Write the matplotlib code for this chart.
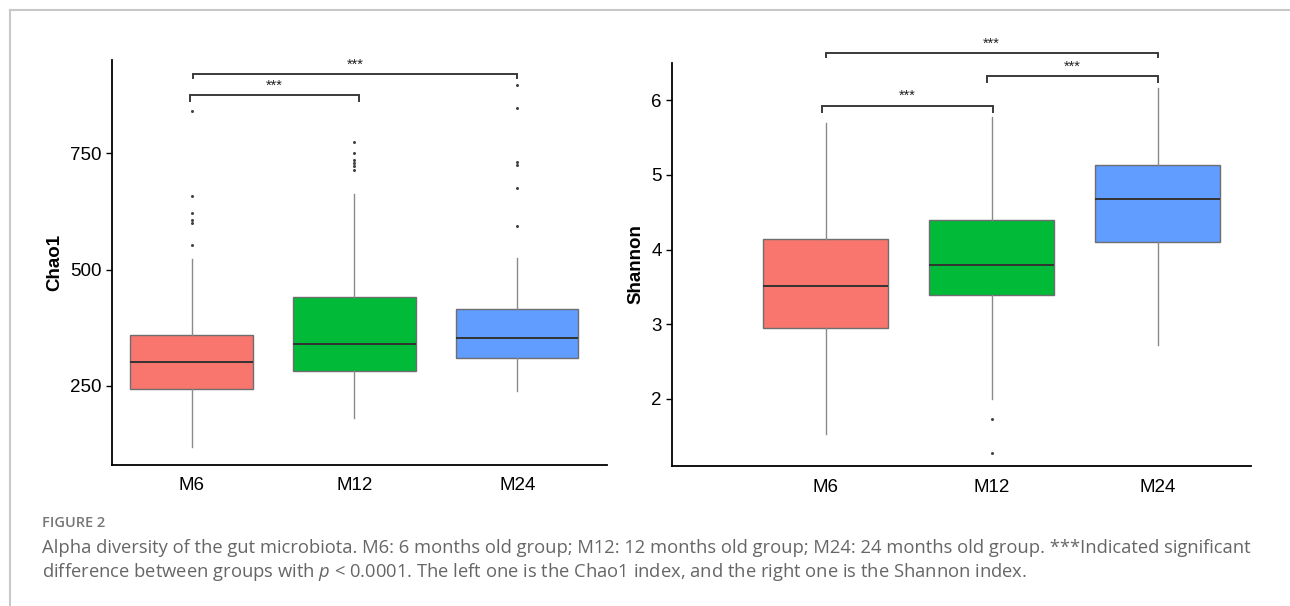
import numpy as np
import matplotlib
matplotlib.use("Agg")
import matplotlib.pyplot as plt
from matplotlib.lines import Line2D

plt.rcParams['font.family'] = ['Liberation Sans', 'DejaVu Sans']
plt.rcParams['mathtext.fontset'] = 'custom'
plt.rcParams['mathtext.rm'] = 'Open Sans'
plt.rcParams['mathtext.it'] = 'Open Sans:italic'

groups = ["M6", "M12", "M24"]
fills = ["#F8766D", "#00BA38", "#619CFF"]

# Chao1 box stats
chao_lo = [118, 182, 238]
chao_q1 = [243, 282, 310]
chao_med = [301, 340, 352]
chao_q3 = [359, 441, 415]
chao_hi = [523, 663, 524]
chao_out = [[553, 600, 607, 621, 659, 841],
            [715, 722, 729, 736, 751, 775],
            [593, 676, 725, 732, 847, 897]]
chao_ticks = [250, 500, 750]
# brackets: (x start, x end, line y, tick bottom y)
chao_sig = [(0.99, 2.03, 875, 863), (1.01, 3.0, 920, 911)]

# Shannon box stats
sh_lo = [1.53, 2.00, 2.72]
sh_q1 = [2.955, 3.39, 4.10]
sh_med = [3.51, 3.795, 4.68]
sh_q3 = [4.14, 4.39, 5.13]
sh_hi = [5.70, 5.78, 6.17]
sh_out = [[], [1.73, 1.28], []]
sh_ticks = [2, 3, 4, 5, 6]
sh_sig = [(0.98, 2.01, 5.93, 5.85), (1.97, 3.0, 6.32, 6.25), (1.0, 3.0, 6.63, 6.58)]

caption_title = "FIGURE 2"
caption_1 = ("Alpha diversity of the gut microbiota. M6: 6 months old group; M12: 12 months old group; "
             "M24: 24 months old group. ***Indicated significant")
caption_2 = ("difference between groups with $p$ < 0.0001. The left one is the Chao1 index, "
             "and the right one is the Shannon index.")


def draw_panel(ax, lo, q1, med, q3, hi, out, ticks, sig, ylabel, xlim, ylim):
    stats = []
    for i in range(len(groups)):
        stats.append(dict(whislo=lo[i], q1=q1[i], med=med[i], q3=q3[i], whishi=hi[i],
                          fliers=out[i], label=groups[i]))
    bp = ax.bxp(stats, positions=[1, 2, 3], widths=0.75, patch_artist=True, showcaps=False,
                boxprops=dict(edgecolor="#6e6e6e", linewidth=1.0),
                whiskerprops=dict(color="#8a8a8a", linewidth=1.0),
                medianprops=dict(color="#333333", linewidth=1.4),
                flierprops=dict(marker="o", markersize=2.2, markerfacecolor="#444444",
                                markeredgecolor="none"))
    for patch, c in zip(bp["boxes"], fills):
        patch.set_facecolor(c)
    for x0, x1, y, yb in sig:
        ax.plot([x0, x0, x1, x1], [yb, y, y, yb], color="#3a3a3a", lw=1.4,
                clip_on=False, solid_joinstyle="miter")
        ax.text((x0 + x1) / 2, y + (ylim[1] - ylim[0]) * 0.006, "***", ha="center",
                va="bottom", fontsize=10.5, color="#222222", clip_on=False)
    ax.set_xlim(*xlim)
    ax.set_ylim(*ylim)
    ax.set_yticks(ticks)
    ax.set_xticks([1, 2, 3])
    ax.set_xticklabels(groups)
    ax.tick_params(axis="both", labelsize=13.5, colors="black", length=4, width=1)
    ax.tick_params(axis="x", length=0, pad=9)
    for side in ["top", "right"]:
        ax.spines[side].set_visible(False)
    for side in ["left", "bottom"]:
        ax.spines[side].set_linewidth(1.3)
    ax.set_ylabel(ylabel, fontsize=13.5, fontweight="bold", labelpad=5)


fig = plt.figure(figsize=(12.9, 6.06), dpi=100)

ax1 = fig.add_axes([0.0866, 0.2327, 0.3839, 0.668])
draw_panel(ax1, chao_lo, chao_q1, chao_med, chao_q3, chao_hi, chao_out, chao_ticks,
           chao_sig, "Chao1", (0.51, 3.55), (80, 950))

ax2 = fig.add_axes([0.5212, 0.231, 0.4488, 0.665])
draw_panel(ax2, sh_lo, sh_q1, sh_med, sh_q3, sh_hi, sh_out, sh_ticks,
           sh_sig, "Shannon", (0.077, 3.565), (1.10, 6.50))

# page frame
W, H = 1290, 606
fig.add_artist(Line2D([10 / W, 1], [1 - 10 / H, 1 - 10 / H], color="#c8c8c8", lw=1.5))
fig.add_artist(Line2D([10 / W, 10 / W], [0, 1 - 10 / H], color="#c8c8c8", lw=1.5))

fig.text(42 / W, 1 - 523 / H, caption_title, fontsize=10.5, fontweight="semibold",
         family="Open Sans", color="#777777", va="center")
fig.text(42 / W, 1 - 548 / H, caption_1, fontsize=13.2, family="Open Sans",
         color="#666666", va="center")
fig.text(42 / W, 1 - 572 / H, caption_2, fontsize=13.2, family="Open Sans",
         color="#666666", va="center")

fig.savefig("out.png", dpi=100)
